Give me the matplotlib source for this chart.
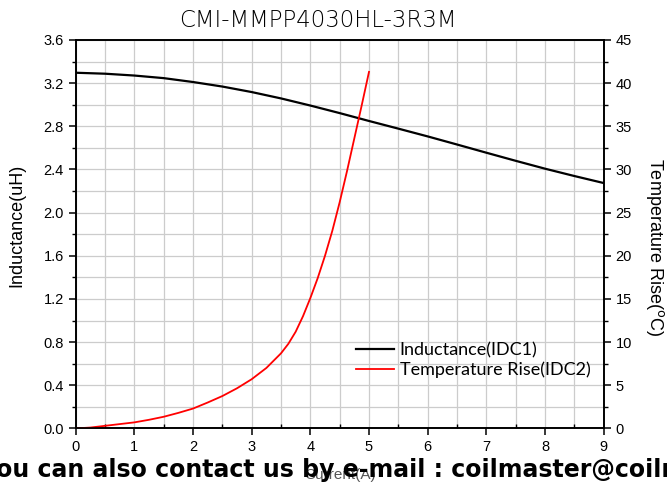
import matplotlib
matplotlib.use("Agg")
import matplotlib.pyplot as plt
from matplotlib.ticker import MultipleLocator

# Inductance vs current (IDC1)
current_l = [0, 0.5, 1, 1.5, 2, 2.5, 3, 3.5, 4, 4.5, 5, 5.5, 6, 6.5, 7, 7.5, 8, 8.5, 9]
inductance = [3.296, 3.287, 3.27, 3.246, 3.21, 3.168, 3.117, 3.058, 2.992, 2.922,
              2.849, 2.778, 2.706, 2.631, 2.555, 2.48, 2.407, 2.339, 2.274]

# Temperature rise vs current (IDC2)
current_t = [0, 0.25, 0.5, 0.75, 1, 1.25, 1.5, 1.75, 2, 2.25, 2.5, 2.75, 3, 3.25,
             3.5, 3.625, 3.75, 3.875, 4, 4.125, 4.25, 4.375, 4.5, 4.625, 4.75, 4.875, 5]
temp_rise = [0, 0.1, 0.3, 0.5, 0.7, 1.0, 1.35, 1.8, 2.3, 3.0, 3.75, 4.65, 5.7, 7.0,
             8.7, 9.8, 11.2, 13.0, 15.1, 17.4, 20.0, 22.9, 26.2, 29.8, 33.6, 37.4, 41.3]

title = "CMI-MMPP4030HL-3R3M"
footer = "You can also contact us by e-mail : coilmaster@coilmaster.com"

plt.rcParams['font.family'] = ['Liberation Sans', 'DejaVu Sans']

fig = plt.figure(figsize=(6.67, 4.93), dpi=100)
ax = fig.add_axes([0.1135, 0.131, 0.7915, 0.788])
ax2 = ax.twinx()

ax.plot(current_l, inductance, color='black', lw=1.6, label='Inductance(IDC1)')
ax2.plot(current_t, temp_rise, color='red', lw=1.3, label='Temperature Rise(IDC2)')

ax.set_xlim(0, 9)
ax.set_ylim(0, 3.6)
ax2.set_ylim(0, 45)

ax.xaxis.set_major_locator(MultipleLocator(1))
ax.xaxis.set_minor_locator(MultipleLocator(0.5))
ax.yaxis.set_major_locator(MultipleLocator(0.4))
ax.yaxis.set_minor_locator(MultipleLocator(0.2))
ax2.yaxis.set_major_locator(MultipleLocator(5))
ax2.yaxis.set_minor_locator(MultipleLocator(2.5))

ax.grid(True, which='both', color='#cccccc', lw=0.9)
ax.set_axisbelow(True)

for a in (ax, ax2):
    for s in a.spines.values():
        s.set_linewidth(1.2)
ax.tick_params(which='major', direction='out', length=5, width=1.1, labelsize=10.5, top=False)
ax.tick_params(which='minor', direction='out', length=3, width=1.0, top=False)
ax.tick_params(axis='x', which='minor', direction='in', length=3)
ax2.tick_params(which='major', direction='out', length=5, width=1.1, labelsize=10.5)
ax2.tick_params(which='minor', direction='out', length=3, width=1.0)

ax.set_yticklabels([f"{v:.1f}" for v in ax.get_yticks()])

ax.set_xlabel('Current(A)', fontsize=11, color='#555555', labelpad=10)
ax.set_ylabel('Inductance(uH)', fontsize=13, va='center')
ax.yaxis.set_label_coords(-0.111, 0.523)
ax2.set_ylabel(r'Temperature Rise($^{\rm o}$C)', fontsize=13, rotation=-90, va='center')
ax2.yaxis.set_label_coords(1.0976, 0.466)

fig.text(0.477, 0.945, title, ha='center', va='baseline', fontsize=16.5,
         family='DejaVu Sans', fontweight='light')

handles = ax.get_lines() + ax2.get_lines()
fig.legend(handles, [h.get_label() for h in handles], loc='upper left',
           bbox_to_anchor=(0.534, 0.305), frameon=False,
           prop={'family': 'Lato', 'size': 13}, handlelength=2.1,
           handletextpad=0.3, labelspacing=0.15, borderpad=0, borderaxespad=0)

fig.text(-0.028, 0.032, footer, ha='left', va='baseline', fontsize=17,
         fontweight='bold', family='DejaVu Sans', color='black')

fig.savefig('out.png', dpi=100)
